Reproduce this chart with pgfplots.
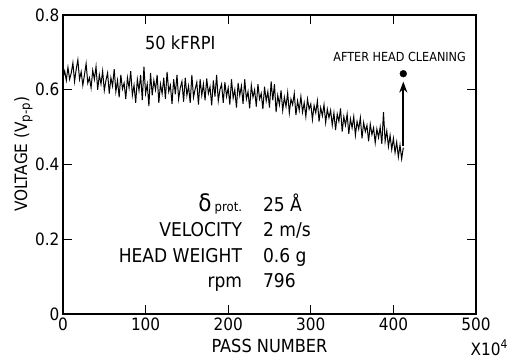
\documentclass[border=0pt]{standalone}
\usepackage{fontspec}
\setmainfont{DejaVu Sans Condensed}
\usepackage{pgfplots}
\pgfplotsset{compat=1.18}
\usetikzlibrary{arrows.meta}
\begin{document}
\begin{tikzpicture}
\useasboundingbox (-63pt,-46pt) rectangle (452pt,314pt);
\begin{axis}[
  at={(0,0)}, anchor=south west,
  scale only axis, width=413pt, height=299pt,
  xmin=0, xmax=500, ymin=0, ymax=0.8,
  xtick={0,100,200,300,400,500},
  ytick={0,0.2,0.4,0.6,0.8},
  yticklabels={0,0.2,0.4,0.6,0.8},
  tick align=inside, major tick length=9pt,
  axis line style={line width=2.2pt},
  tick style={line width=1.2pt, black},
  tick label style={font=\fontsize{17}{19}\selectfont},
  /pgf/number format/assume math mode=true,
  xlabel={PASS NUMBER}, xlabel style={font=\fontsize{18}{20}\selectfont, at={(rel axis cs:0.5,0)}, anchor=north, yshift=-22pt},
  ylabel={VOLTAGE (V\textsubscript{\fontsize{13}{14}\selectfont p-p})}, ylabel style={font=\fontsize{17}{19}\selectfont, at={(rel axis cs:0,0.535)}, anchor=south, yshift=27pt},
  clip=false,
]
\addplot[black, line width=1pt] coordinates {
(0,.632)(2,.650)(4,.625)(6,.660)(8,.628)(10,.645)(12,.672)(14,.622)(16,.655)(18,.680)
(20,.628)(22,.648)(24,.612)(26,.640)(28,.670)(30,.618)(32,.632)(34,.605)(36,.652)(38,.628)
(40,.662)(42,.600)(44,.640)(46,.615)(48,.650)(50,.598)(52,.625)(54,.645)(56,.590)(58,.632)
(60,.610)(62,.655)(64,.595)(66,.625)(68,.580)(70,.640)(72,.602)(74,.618)(76,.575)(78,.632)
(80,.605)(82,.650)(84,.585)(86,.612)(88,.565)(90,.628)(92,.598)(94,.640)(96,.572)(98,.662)
(100,.590)(102,.615)(104,.556)(106,.645)(108,.585)(110,.625)(112,.600)(114,.640)(116,.565)(118,.615)
(120,.590)(122,.632)(124,.575)(126,.648)(128,.595)(130,.612)(132,.562)(134,.628)(136,.588)(138,.640)
(140,.575)(142,.605)(144,.622)(146,.568)(148,.632)(150,.585)(152,.610)(154,.565)(156,.640)(158,.580)
(160,.602)(162,.620)(164,.560)(166,.628)(168,.585)(170,.615)(172,.572)(174,.630)(176,.590)(178,.608)
(180,.558)(182,.625)(184,.582)(186,.640)(188,.570)(190,.600)(192,.615)(194,.565)(196,.620)(198,.582)
(200,.605)(202,.560)(204,.628)(206,.578)(208,.600)(210,.552)(212,.618)(214,.585)(216,.610)(218,.562)
(220,.628)(222,.575)(224,.595)(226,.550)(228,.612)(230,.580)(232,.600)(234,.555)(236,.615)(238,.575)
(240,.590)(242,.548)(244,.608)(246,.570)(248,.595)(250,.552)(252,.622)(254,.572)(256,.615)(258,.540)
(260,.585)(262,.560)(264,.598)(266,.545)(268,.580)(270,.555)(272,.592)(274,.538)(276,.575)(278,.560)
(280,.590)(282,.532)(284,.570)(286,.545)(288,.582)(290,.540)(292,.565)(294,.528)(296,.575)(298,.548)
(300,.562)(302,.520)(304,.558)(306,.538)(308,.570)(310,.515)(312,.552)(314,.530)(316,.560)(318,.512)
(320,.548)(322,.525)(324,.545)(326,.505)(328,.538)(330,.492)(332,.535)(334,.515)(336,.550)(338,.488)
(340,.528)(342,.505)(344,.535)(346,.482)(348,.522)(350,.498)(352,.528)(354,.478)(356,.515)(358,.495)
(360,.525)(362,.470)(364,.512)(366,.488)(368,.505)(370,.462)(372,.508)(374,.480)(376,.498)(378,.458)
(380,.495)(382,.472)(384,.500)(386,.455)(388,.540)(390,.462)(392,.490)(394,.448)(396,.478)(398,.440)
(400,.470)(402,.432)(404,.460)(406,.420)(408,.452)(410,.415)(412,.445)
};
\addplot[only marks, mark=*, mark size=3.4pt, black] coordinates {(412,0.643)};
\draw[line width=2.2pt, -{Stealth[length=11pt,width=8pt]}] (axis cs:412,0.45) -- (axis cs:412,0.622);
\node[font=\fontsize{12.5}{13}\selectfont, anchor=base east, inner sep=0pt] at (axis cs:488,0.675) {AFTER HEAD CLEANING};
\node[font=\fontsize{18}{20}\selectfont] at (axis cs:142,0.725) {50 kFRPI};
\node[font=\fontsize{19}{21}\selectfont, anchor=base east, inner sep=0pt] at (axis cs:217,0.275) {{\fontsize{24}{26}\selectfont δ}\,{\fontsize{13}{14}\selectfont prot.}};
\node[font=\fontsize{19}{21}\selectfont, anchor=base east, inner sep=0pt] at (axis cs:217,0.207) {VELOCITY};
\node[font=\fontsize{19}{21}\selectfont, anchor=base east, inner sep=0pt] at (axis cs:217,0.139) {HEAD WEIGHT};
\node[font=\fontsize{19}{21}\selectfont, anchor=base east, inner sep=0pt] at (axis cs:217,0.072) {rpm};
\node[font=\fontsize{19}{21}\selectfont, anchor=base west, inner sep=0pt] at (axis cs:242,0.275) {25 Å};
\node[font=\fontsize{19}{21}\selectfont, anchor=base west, inner sep=0pt] at (axis cs:242,0.207) {2 m/s};
\node[font=\fontsize{19}{21}\selectfont, anchor=base west, inner sep=0pt] at (axis cs:242,0.139) {0.6 g};
\node[font=\fontsize{19}{21}\selectfont, anchor=base west, inner sep=0pt] at (axis cs:242,0.072) {796};
\node[font=\fontsize{17}{19}\selectfont, anchor=base] at (axis cs:516,-0.11) {X10\textsuperscript{4}};
\end{axis}
\end{tikzpicture}
\end{document}
